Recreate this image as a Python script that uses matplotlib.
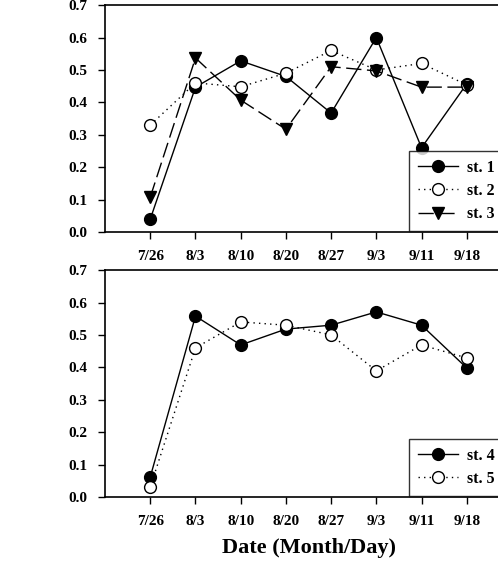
import matplotlib
matplotlib.use("Agg")
import matplotlib.pyplot as plt

dates = ["7/26", "8/3", "8/10", "8/20", "8/27", "9/3", "9/11", "9/18"]
st1 = [0.04, 0.447, 0.528, 0.48, 0.367, 0.60, 0.26, 0.457]
st2 = [0.33, 0.46, 0.448, 0.49, 0.56, 0.50, 0.52, 0.454]
st3 = [0.108, 0.537, 0.407, 0.317, 0.51, 0.497, 0.447, 0.447]
st4 = [0.062, 0.558, 0.469, 0.518, 0.53, 0.571, 0.53, 0.398]
st5 = [0.031, 0.46, 0.54, 0.53, 0.50, 0.389, 0.469, 0.429]
yticks = [0.0, 0.1, 0.2, 0.3, 0.4, 0.5, 0.6, 0.7]

plt.rcParams['font.family'] = ['Liberation Serif', 'DejaVu Serif']
plt.rcParams['font.weight'] = 'bold'

fig = plt.figure(figsize=(4.98, 5.68), dpi=100)
ax1 = fig.add_axes([0.211, 0.5915, 0.817, 0.3995])
ax2 = fig.add_axes([0.211, 0.125, 0.817, 0.3995])

x = list(range(len(dates)))
ms = 8.5
kw_f = dict(color='black', markersize=ms, markerfacecolor='black', markeredgecolor='black', lw=1.0)
kw_o = dict(color='black', markersize=ms, markerfacecolor='white', markeredgecolor='black', lw=1.0, markeredgewidth=1.0)

ax1.plot(x, st1, marker='o', linestyle='-', label='st. 1', **kw_f)
ax1.plot(x, st2, marker='o', linestyle=(0, (1, 3)), label='st. 2', **kw_o)
ax1.plot(x, st3, marker='v', linestyle=(0, (11, 4)), label='st. 3', **kw_f)

ax2.plot(x, st4, marker='o', linestyle='-', label='st. 4', **kw_f)
ax2.plot(x, st5, marker='o', linestyle=(0, (1, 3)), label='st. 5', **kw_o)

for ax in (ax1, ax2):
    ax.set_xlim(-1, 8)
    ax.set_ylim(0, 0.7)
    ax.set_yticks(yticks)
    ax.set_yticklabels([f"{v:.1f}" for v in yticks])
    ax.set_xticks(x)
    ax.set_xticklabels(dates)
    ax.tick_params(axis='both', direction='out', length=5, width=1.0, labelsize=11,
                   top=False, right=False, pad=8)
    for lab in ax.get_xticklabels() + ax.get_yticklabels():
        lab.set_fontweight('bold')
    for s in ax.spines.values():
        s.set_linewidth(1.2)
    ax.spines['right'].set_visible(False)
    leg = ax.legend(loc='lower left', bbox_to_anchor=(0.747, 0.005), frameon=True,
                    fancybox=False, edgecolor='black', fontsize=11.5, handlelength=2.5,
                    borderpad=0.55, labelspacing=0.45, handletextpad=0.6, borderaxespad=0.0)
    leg.get_frame().set_linewidth(1.0)
    for t in leg.get_texts():
        t.set_fontweight('bold')

ax2.set_xlabel('Date (Month/Day)', fontsize=16, fontweight='bold', labelpad=7)

fig.savefig('out.png', dpi=100)
